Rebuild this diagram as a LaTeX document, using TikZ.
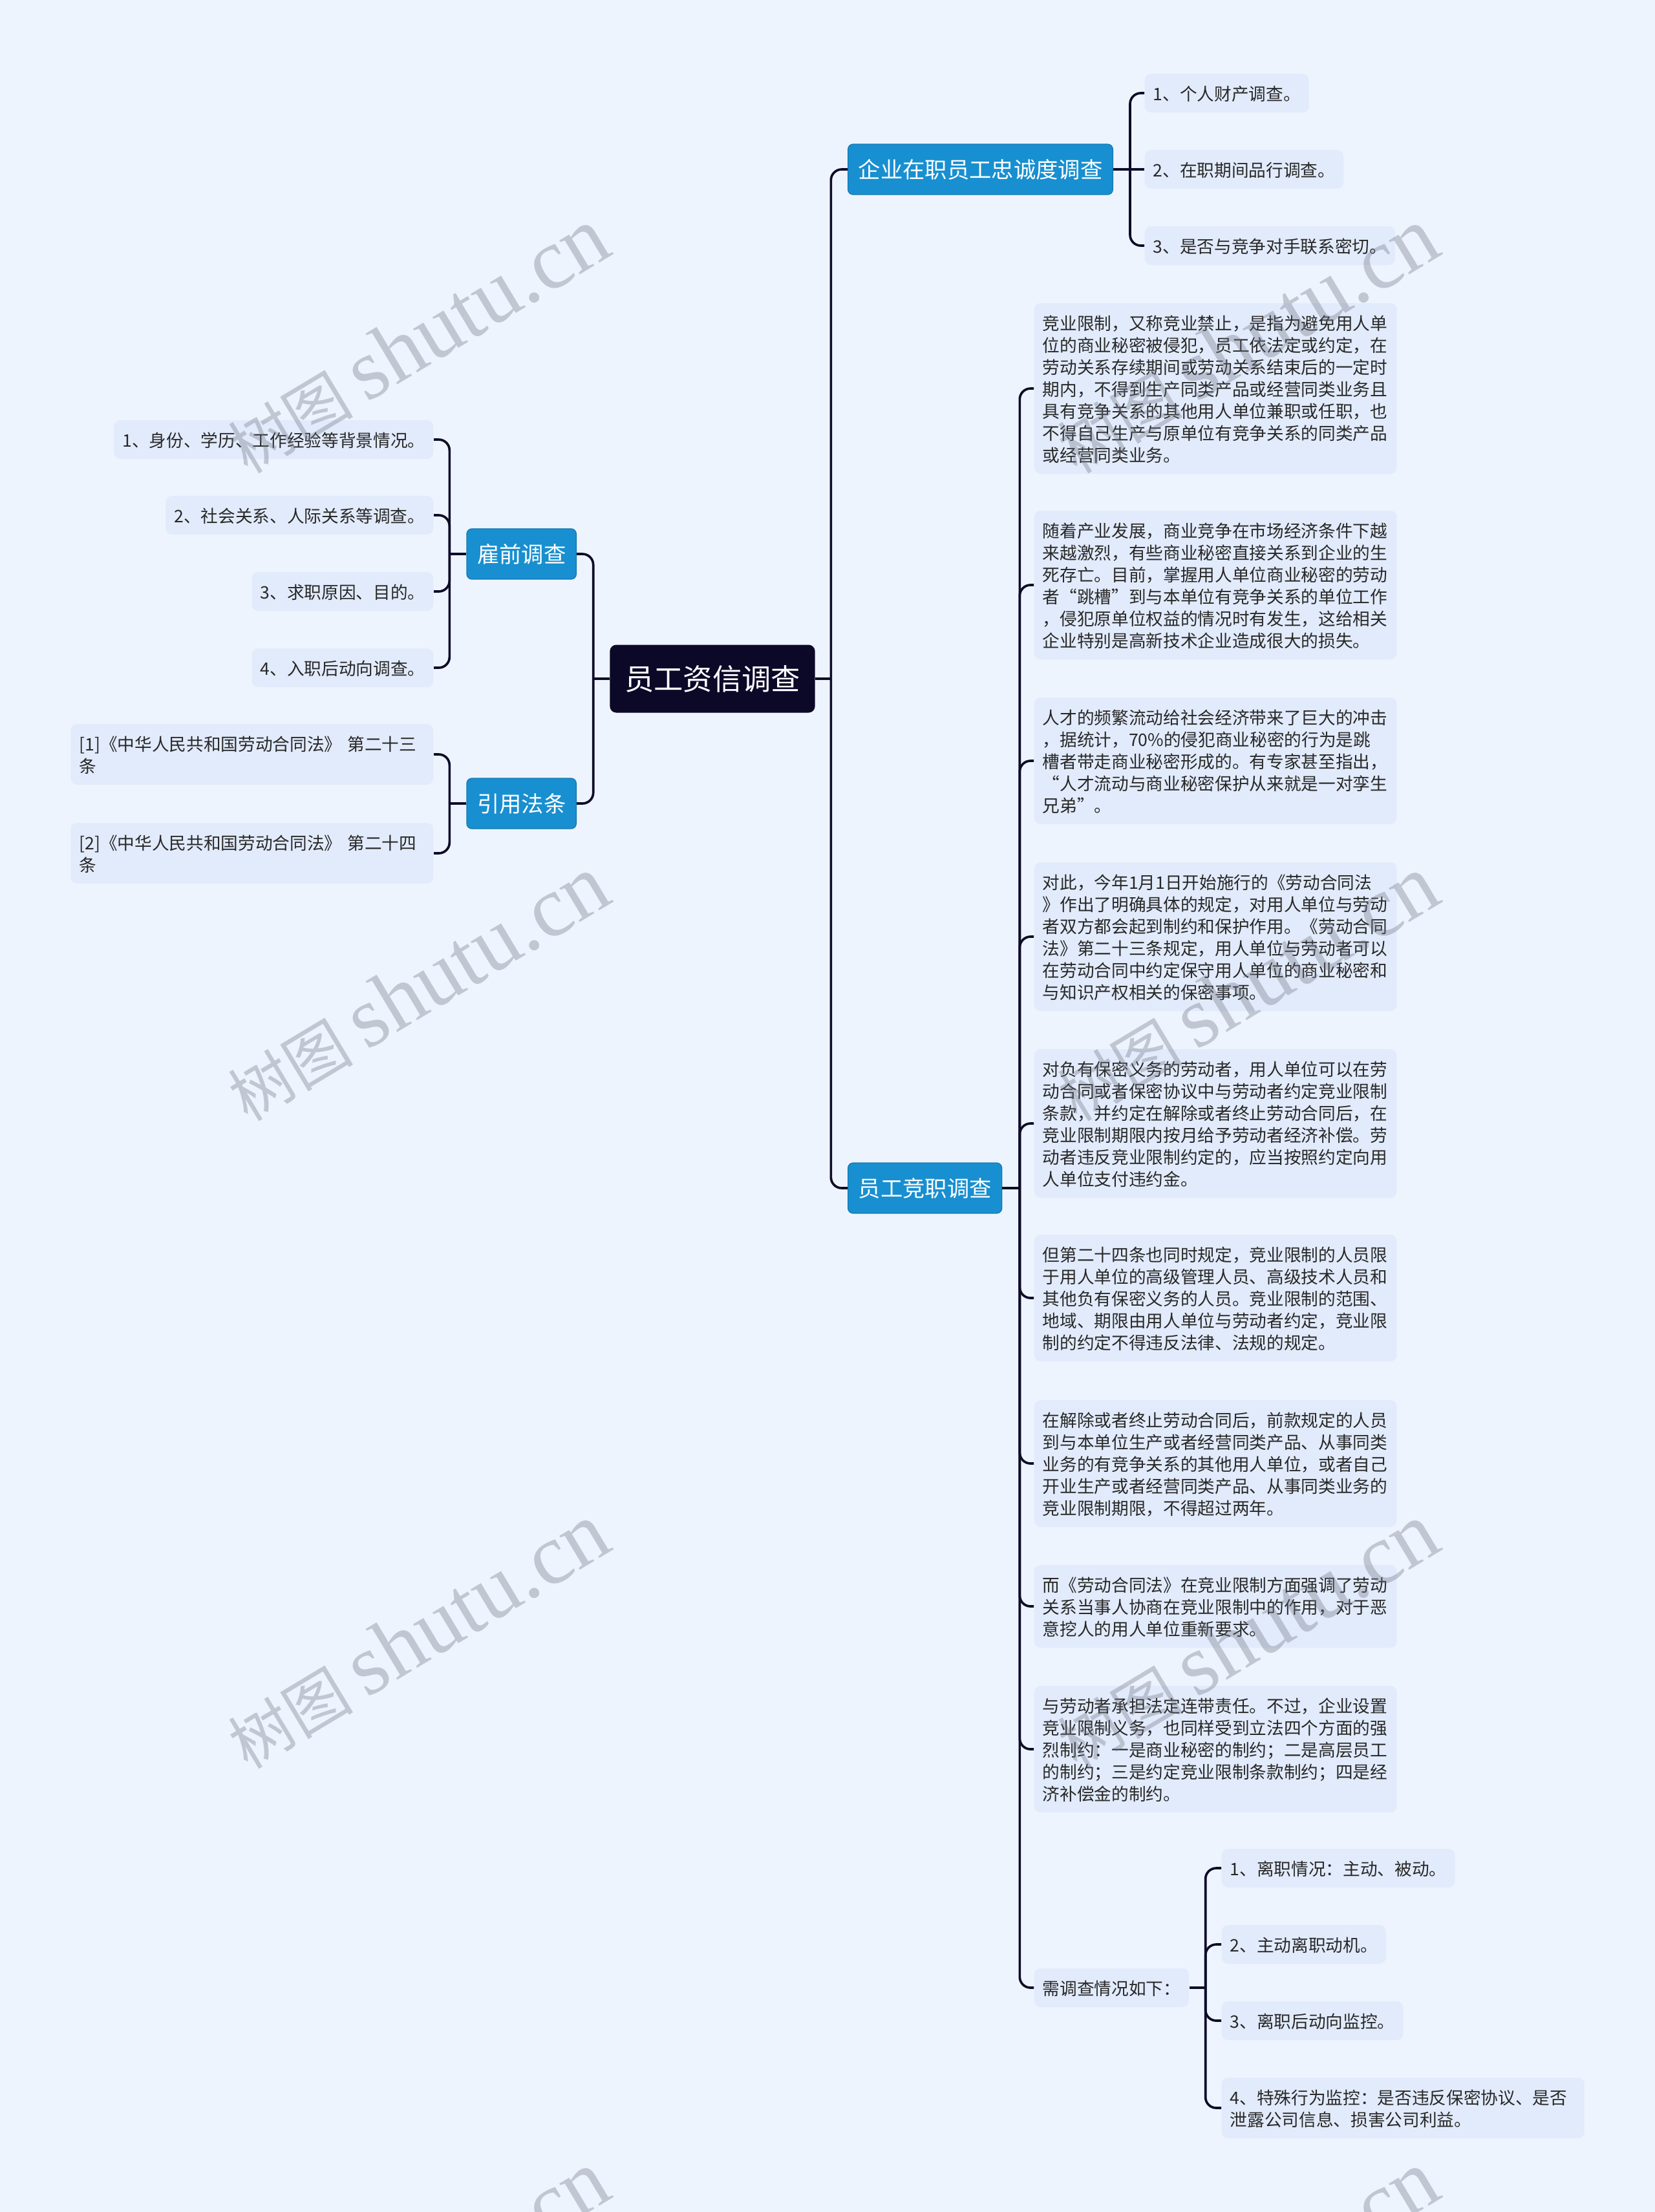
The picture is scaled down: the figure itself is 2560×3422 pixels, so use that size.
\documentclass[tikz,border=0pt]{standalone}
\usepackage{fontspec}
\setmainfont{Noto Sans CJK SC}
\newfontfamily\wmfont{Liberation Serif}
\definecolor{bgcol}{RGB}{238,244,254}
\definecolor{leafcol}{RGB}{226,235,251}
\definecolor{branchcol}{RGB}{24,143,208}
\definecolor{rootcol}{RGB}{12,8,40}
\definecolor{linecol}{RGB}{14,12,40}
\definecolor{leaftext}{RGB}{40,40,40}
\definecolor{markcol}{RGB}{110,115,130}
\newcommand{\qopen}{\makebox[1em][r]{“}}
\newcommand{\qclose}{\makebox[1em][l]{”}}
\newcommand{\leafstrut}{\rule[-1.6pt]{0pt}{10.2pt}}
\begin{document}
\begin{tikzpicture}[x=0.3pt,y=-0.3pt,
  root/.style={fill=rootcol,text=white,rounded corners=3pt,inner xsep=6.8pt,minimum height=31.5pt,font=\fontsize{13.6pt}{16pt}\selectfont},
  branch/.style={fill=branchcol,draw=branchcol!85!black,line width=0.4pt,text=white,rounded corners=2.4pt,inner xsep=4.8pt,minimum height=23.4pt,font=\fontsize{10.3pt}{12pt}\selectfont},
  leaf/.style={fill=leafcol,text=leaftext,rounded corners=3pt,inner xsep=3.9pt,inner ysep=3.9pt,font=\fontsize{8pt}{10.2pt}\selectfont,execute at begin node=\leafstrut},
  para/.style={leaf,text width=160.5pt,align=left,execute at end node=\leafstrut},
  link/.style={draw=linecol,line width=1.1pt,rounded corners=5pt},
  wmark/.style={text=markcol,text opacity=0.35,rotate=31,font=\fontsize{29pt}{32pt}\selectfont}]
\useasboundingbox (0,0) rectangle (2560,3422);
\clip (0,0) rectangle (2560,3422);
\fill[bgcol] (0,0) rectangle (2560,3422);
\node[root] (root) at (1102,1050) {员工资信调查};
\node[branch,anchor=west] (loyal) at (1311,262) {企业在职员工忠诚度调查};
\node[branch,anchor=west] (compete) at (1311,1838) {员工竞职调查};
\node[branch,anchor=east] (hire) at (892,857) {雇前调查};
\node[branch,anchor=east] (law) at (892,1243) {引用法条};
\node[leaf,anchor=west] (loyal1) at (1770,144) {1、个人财产调查。};
\node[leaf,anchor=west] (loyal2) at (1770,262) {2、在职期间品行调查。};
\node[leaf,anchor=west] (loyal3) at (1770,380) {3、是否与竞争对手联系密切。};
\node[leaf,anchor=east] (hire1) at (671,680) {1、身份、学历、工作经验等背景情况。};
\node[leaf,anchor=east] (hire2) at (671,797) {2、社会关系、人际关系等调查。};
\node[leaf,anchor=east] (hire3) at (671,915) {3、求职原因、目的。};
\node[leaf,anchor=east] (hire4) at (671,1033) {4、入职后动向调查。};
\node[para,anchor=east] (law1) at (671,1167) {[1]《中华人民共和国劳动合同法》 第二十三\\条};
\node[para,anchor=east] (law2) at (671,1320) {[2]《中华人民共和国劳动合同法》 第二十四\\条};
\node[para,anchor=west] (text1) at (1599,601) {竞业限制，又称竞业禁止，是指为避免用人单\\位的商业秘密被侵犯，员工依法定或约定，在\\劳动关系存续期间或劳动关系结束后的一定时\\期内，不得到生产同类产品或经营同类业务且\\具有竞争关系的其他用人单位兼职或任职，也\\不得自己生产与原单位有竞争关系的同类产品\\或经营同类业务。};
\node[para,anchor=west] (text2) at (1599,905) {随着产业发展，商业竞争在市场经济条件下越\\来越激烈，有些商业秘密直接关系到企业的生\\死存亡。目前，掌握用人单位商业秘密的劳动\\者\qopen{}跳槽\qclose{}到与本单位有竞争关系的单位工作\\，侵犯原单位权益的情况时有发生，这给相关\\企业特别是高新技术企业造成很大的损失。};
\node[para,anchor=west] (text3) at (1599,1177) {人才的频繁流动给社会经济带来了巨大的冲击\\，据统计，70\%的侵犯商业秘密的行为是跳\\槽者带走商业秘密形成的。有专家甚至指出，\\\qopen{}人才流动与商业秘密保护从来就是一对孪生\\兄弟\qclose{}。};
\node[para,anchor=west] (text4) at (1599,1449) {对此，今年1月1日开始施行的《劳动合同法\\》作出了明确具体的规定，对用人单位与劳动\\者双方都会起到制约和保护作用。《劳动合同\\法》第二十三条规定，用人单位与劳动者可以\\在劳动合同中约定保守用人单位的商业秘密和\\与知识产权相关的保密事项。};
\node[para,anchor=west] (text5) at (1599,1738) {对负有保密义务的劳动者，用人单位可以在劳\\动合同或者保密协议中与劳动者约定竞业限制\\条款，并约定在解除或者终止劳动合同后，在\\竞业限制期限内按月给予劳动者经济补偿。劳\\动者违反竞业限制约定的，应当按照约定向用\\人单位支付违约金。};
\node[para,anchor=west] (text6) at (1599,2008) {但第二十四条也同时规定，竞业限制的人员限\\于用人单位的高级管理人员、高级技术人员和\\其他负有保密义务的人员。竞业限制的范围、\\地域、期限由用人单位与劳动者约定，竞业限\\制的约定不得违反法律、法规的规定。};
\node[para,anchor=west] (text7) at (1599,2264) {在解除或者终止劳动合同后，前款规定的人员\\到与本单位生产或者经营同类产品、从事同类\\业务的有竞争关系的其他用人单位，或者自己\\开业生产或者经营同类产品、从事同类业务的\\竞业限制期限，不得超过两年。};
\node[para,anchor=west] (text8) at (1599,2485) {而《劳动合同法》在竞业限制方面强调了劳动\\关系当事人协商在竞业限制中的作用，对于恶\\意挖人的用人单位重新要求。};
\node[para,anchor=west] (text9) at (1599,2706) {与劳动者承担法定连带责任。不过，企业设置\\竞业限制义务，也同样受到立法四个方面的强\\烈制约：一是商业秘密的制约；二是高层员工\\的制约；三是约定竞业限制条款制约；四是经\\济补偿金的制约。};
\node[leaf,anchor=west] (check) at (1599,3075) {需调查情况如下：};
\node[leaf,anchor=west] (check1) at (1889,2890) {1、离职情况：主动、被动。};
\node[leaf,anchor=west] (check2) at (1889,3008) {2、主动离职动机。};
\node[leaf,anchor=west] (check3) at (1889,3126) {3、离职后动向监控。};
\node[para,anchor=west] (check4) at (1889,3261) {4、特殊行为监控：是否违反保密协议、是否\\泄露公司信息、损害公司利益。};
\path (root.east) ++(24,0) coordinate (rtrunk);
\path (root.west) ++(-25,0) coordinate (ltrunk);
\path (loyal.east) ++(26,0) coordinate (loyaltrunk);
\path (compete.east) ++(27,0) coordinate (competetrunk);
\path (hire.west) ++(-26,0) coordinate (hiretrunk);
\path (law.west) ++(-26,0) coordinate (lawtrunk);
\path (check.east) ++(25,0) coordinate (checktrunk);
\draw[link] (root.east) -- (rtrunk);
\draw[link] (rtrunk) |- (loyal.west);
\draw[link] (rtrunk) |- (compete.west);
\draw[link] (root.west) -- (ltrunk);
\draw[link] (ltrunk) |- (hire.east);
\draw[link] (ltrunk) |- (law.east);
\draw[link] (loyal.east) -- (loyal2.west);
\draw[link] (loyaltrunk) |- (loyal1.west);
\draw[link] (loyaltrunk) |- (loyal3.west);
\draw[link] (hire.west) -- (hiretrunk);
\draw[link] (hiretrunk) |- (hire1.east);
\draw[link] (hiretrunk) |- (hire2.east);
\draw[link] (hiretrunk) |- (hire3.east);
\draw[link] (hiretrunk) |- (hire4.east);
\draw[link] (law.west) -- (lawtrunk);
\draw[link] (lawtrunk) |- (law1.east);
\draw[link] (lawtrunk) |- (law2.east);
\draw[link] (compete.east) -- (competetrunk);
\draw[link] (competetrunk) |- (text1.west);
\draw[link] (competetrunk) |- (text2.west);
\draw[link] (competetrunk) |- (text3.west);
\draw[link] (competetrunk) |- (text4.west);
\draw[link] (competetrunk) |- (text5.west);
\draw[link] (competetrunk) |- (text6.west);
\draw[link] (competetrunk) |- (text7.west);
\draw[link] (competetrunk) |- (text8.west);
\draw[link] (competetrunk) |- (text9.west);
\draw[link] (competetrunk) |- (check.west);
\draw[link] (check.east) -- (checktrunk);
\draw[link] (checktrunk) |- (check1.west);
\draw[link] (checktrunk) |- (check2.west);
\draw[link] (checktrunk) |- (check3.west);
\draw[link] (checktrunk) |- (check4.west);
\node[wmark] (mark1) at (646,527) {树图 {\wmfont\fontsize{40pt}{42pt}\selectfont shutu.cn}};
\node[wmark] (mark2) at (646,1529) {树图 {\wmfont\fontsize{40pt}{42pt}\selectfont shutu.cn}};
\node[wmark] (mark3) at (646,2531) {树图 {\wmfont\fontsize{40pt}{42pt}\selectfont shutu.cn}};
\node[wmark] (mark4) at (646,3533) {树图 {\wmfont\fontsize{40pt}{42pt}\selectfont shutu.cn}};
\node[wmark] (mark5) at (1929,527) {树图 {\wmfont\fontsize{40pt}{42pt}\selectfont shutu.cn}};
\node[wmark] (mark6) at (1929,1529) {树图 {\wmfont\fontsize{40pt}{42pt}\selectfont shutu.cn}};
\node[wmark] (mark7) at (1929,2531) {树图 {\wmfont\fontsize{40pt}{42pt}\selectfont shutu.cn}};
\node[wmark] (mark8) at (1929,3533) {树图 {\wmfont\fontsize{40pt}{42pt}\selectfont shutu.cn}};
\end{tikzpicture}
\end{document}
